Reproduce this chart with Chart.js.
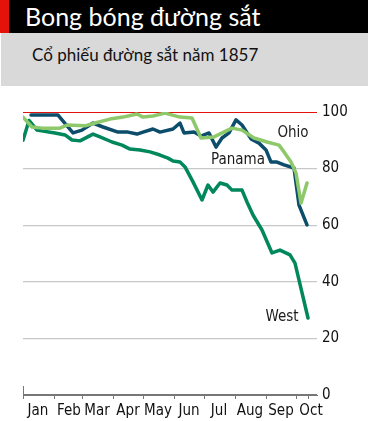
<!DOCTYPE html>
<html>
<head>
<meta charset="utf-8">
<script src="https://cdn.jsdelivr.net/npm/chart.js@4"></script>
<style>
  html, body { margin: 0; padding: 0; background: #fff; width: 368px; height: 421px; overflow: hidden; }
  .title-bar { position: absolute; left: 0; top: 0; width: 368px; height: 33px; background: #000; }
  .title-bar .red { position: absolute; left: 0; top: 0; width: 9px; height: 33px; background: #e3120b; }
  .title-bar .txt { position: absolute; left: 25px; top: 1px; color: #fff; font: 25px Lato, "Open Sans", sans-serif; line-height: 30px; }
  .sub-bar { position: absolute; left: 1px; top: 33px; width: 367px; height: 53px; background: #d9d9d9; }
  .sub-bar .txt { position: absolute; left: 31px; top: 10px; color: #111; font: 17px Lato, "Open Sans", sans-serif; line-height: 24px; }
  #chart { position: absolute; left: 0; top: 90px; }
</style>
</head>
<body>
<div class="title-bar"><div class="red"></div><div class="txt">Bong bóng đường sắt</div></div>
<div class="sub-bar"><div class="txt">Cổ phiếu đường sắt năm 1857</div></div>
<canvas id="chart" width="368" height="331"></canvas>
<script>
// day of year 1857 (0 = 1 Jan), index of 100 at start
var monthNames  = ['Jan', 'Feb', 'Mar', 'Apr', 'May', 'Jun', 'Jul', 'Aug', 'Sep', 'Oct'];
var monthStarts = [0, 31, 59, 90, 120, 151, 181, 212, 243, 273];
var yTicks      = [0, 20, 40, 60, 80, 100];

var ohioDays   = [0, 9, 19, 37, 44, 62, 72, 87, 100, 114, 120, 130, 142, 157, 169, 178, 191, 209, 219, 231, 244, 256, 261, 268, 273, 278, 284];
var ohioValues = [98.2, 94.7, 94.3, 94.3, 95.4, 95.1, 96.1, 97.5, 98.2, 99.3, 98.2, 98.6, 99.6, 98.2, 97.9, 90.8, 91.2, 94.3, 93.6, 90.8, 89.4, 88.3, 85.9, 82.3, 78.4, 67.8, 74.9];

var panamaDays   = [8, 35, 50, 59, 70, 80, 95, 105, 114, 120, 130, 137, 150, 157, 161, 171, 178, 186, 193, 199, 206, 213, 219, 228, 236, 243, 248, 254, 261, 271, 276, 284];
var panamaValues = [98.9, 98.9, 92.6, 93.6, 96.1, 94.7, 92.9, 92.9, 92.2, 92.9, 94.0, 92.9, 94.0, 96.1, 92.6, 92.9, 91.5, 92.6, 87.6, 90.8, 92.6, 97.2, 95.4, 90.5, 89.0, 86.6, 82.3, 82.3, 81.3, 80.2, 67.1, 60.1];

var westDays   = [0, 6, 14, 32, 42, 49, 57, 70, 77, 89, 99, 107, 117, 127, 137, 145, 150, 157, 162, 170, 179, 185, 190, 197, 204, 209, 219, 224, 230, 239, 249, 257, 267, 272, 285];
var westValues = [90, 97, 93.6, 92.6, 91.9, 90.1, 89.8, 92.2, 91.2, 89.4, 88.3, 86.9, 86.6, 85.9, 84.8, 83.7, 82.7, 82.3, 80.6, 75.3, 68.9, 74.2, 71.7, 74.9, 74.2, 72.4, 72.4, 68.2, 63.6, 58.3, 50.2, 51.2, 49.5, 46.6, 27.2];

// where the series names sit, in data units
var seriesLabels = [
    { text: 'Ohio',   day: 270, value: 92.5 },
    { text: 'Panama', day: 215, value: 83 },
    { text: 'West',   day: 259, value: 27.5 }
];

function pts(days, vals) {
    return days.map(function (d, i) { return { x: d, y: vals[i] }; });
}

var fontFamily = "'Liberation Sans Narrow', 'DejaVu Sans Condensed', Roboto, sans-serif";
Chart.defaults.font.family = fontFamily;
Chart.defaults.font.size = 15;
Chart.defaults.color = '#111';

var seriesNames = {
    id: 'seriesNames',
    afterDatasetsDraw: function (chart) {
        var c = chart.ctx;
        c.save();
        c.font = '15px ' + fontFamily;
        c.fillStyle = '#1a1a1a';
        c.textAlign = 'center';
        c.textBaseline = 'middle';
        seriesLabels.forEach(function (l) {
            c.fillText(l.text, chart.scales.x.getPixelForValue(l.day), chart.scales.y.getPixelForValue(l.value));
        });
        // taller tick at the start of the time axis
        var a = chart.chartArea;
        c.strokeStyle = '#777';
        c.lineWidth = 1;
        c.beginPath();
        c.moveTo(a.left + 0.5, a.bottom - 9);
        c.lineTo(a.left + 0.5, a.bottom + 2);
        c.stroke();
        c.restore();
    }
};

var lineStyle = { borderWidth: 3.5, pointRadius: 0, tension: 0, borderCapStyle: 'round', borderJoinStyle: 'round', fill: false };

new Chart(document.getElementById('chart'), {
    type: 'line',
    data: {
        datasets: [
            Object.assign({ label: 'Ohio',   data: pts(ohioDays, ohioValues),     borderColor: '#8dc86a' }, lineStyle),
            Object.assign({ label: 'Panama', data: pts(panamaDays, panamaValues), borderColor: '#0c4d6b' }, lineStyle),
            Object.assign({ label: 'West',   data: pts(westDays, westValues),     borderColor: '#00875c' }, lineStyle)
        ]
    },
    plugins: [seriesNames],
    options: {
        responsive: false,
        animation: false,
        layout: { padding: { top: 22, left: 23, right: 0, bottom: 0 } },
        plugins: { legend: { display: false }, tooltip: { enabled: false } },
        scales: {
            x: {
                type: 'linear',
                min: 0,
                max: 294,
                afterBuildTicks: function (axis) {
                    axis.ticks = monthStarts.concat([285]).map(function (v) { return { value: v }; });
                },
                afterFit: function (axis) { axis.height = 26; },
                ticks: {
                    autoSkip: false,
                    maxRotation: 0,
                    labelOffset: 15,
                    padding: 3,
                    callback: function (v) {
                        var i = monthStarts.indexOf(v);
                        return i >= 0 ? monthNames[i] : '';
                    }
                },
                grid: { drawOnChartArea: false, drawTicks: true, tickLength: 4, color: '#777' },
                border: { display: true, color: '#777', width: 1 }
            },
            y: {
                position: 'right',
                min: 0,
                max: 100,
                afterBuildTicks: function (axis) {
                    axis.ticks = yTicks.map(function (v) { return { value: v }; });
                },
                afterFit: function (axis) { axis.width = 51; },
                ticks: { padding: 5 },
                grid: {
                    drawTicks: false,
                    color: function (ctx) {
                        if (ctx.tick.value === 100) return '#e3120b';
                        if (ctx.tick.value === 0) return '#777';
                        return '#c8c8c8';
                    },
                    lineWidth: function (ctx) { return ctx.tick.value === 100 ? 1 : 1.2; }
                },
                border: { display: false }
            }
        }
    }
});
</script>
</body>
</html>
